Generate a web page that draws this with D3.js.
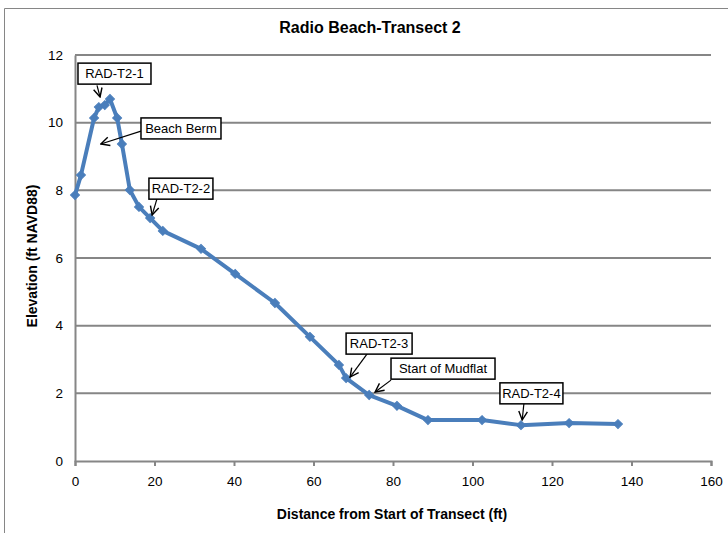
<!DOCTYPE html>
<html><head><meta charset="utf-8">
<script src="https://cdn.jsdelivr.net/npm/d3@7"></script>
<style>body{margin:0;background:#fff;}svg{display:block;font-family:"Liberation Sans",Arial,sans-serif;}</style>
</head><body>
<script>
const distance = [0, 1.5, 4.8, 6.0, 7.5, 8.8, 10.6, 11.8, 13.8, 16.1, 18.9, 22.1, 31.7, 40.3, 50.3, 59.1, 66.4, 68.2, 74.0, 81.0, 88.8, 102.4, 112.2, 124.3, 136.6];
const elevation = [7.86, 8.45, 10.14, 10.46, 10.52, 10.70, 10.14, 9.37, 8.01, 7.51, 7.18, 6.80, 6.27, 5.53, 4.67, 3.67, 2.84, 2.45, 1.95, 1.63, 1.21, 1.21, 1.06, 1.12, 1.09];
const xTicks = [0, 20, 40, 60, 80, 100, 120, 140, 160];
const yTicks = [0, 2, 4, 6, 8, 10, 12];
// callouts: label, box top-left (data coords), arrow start and end (data coords)
const calloutLabels = ["RAD-T2-1", "Beach Berm", "RAD-T2-2", "RAD-T2-3", "Start of Mudflat", "RAD-T2-4"];
const calloutBoxX = [0.75, 16.6, 18.6, 68.2, 79.5, 106.9];
const calloutBoxY = [11.76, 10.14, 8.36, 3.78, 3.04, 2.31];
const calloutBoxW = [73, 80, 64, 66, 104, 63];
const calloutFromX = [5.53, 16.6, 20.6, 74.0, 79.5, 113.0];
const calloutFromY = [11.1, 9.75, 7.74, 3.25, 2.39, 1.77];
const calloutToX = [6.3, 6.5, 19.4, 69.2, 75.5, 112.5];
const calloutToY = [10.76, 9.37, 7.27, 2.48, 2.04, 1.21];

const W = 728, H = 533;
const svg = d3.select("body").append("svg").attr("width", W).attr("height", H);
const x = d3.scaleLinear().domain([0, 160]).range([75, 711]);
const y = d3.scaleLinear().domain([0, 12]).range([461, 55]);
const gray = "#868686";

// outer chart border
svg.append("path").attr("d", `M4.5,${H} L4.5,8.5 L${W},8.5`).attr("fill", "none").attr("stroke", gray).attr("stroke-width", 1);

// title
svg.append("text").attr("x", 370).attr("y", 33).attr("text-anchor", "middle")
  .attr("font-weight", "bold").attr("font-size", 16).text("Radio Beach-Transect 2");

// grid
svg.append("g").selectAll("line").data(yTicks.filter(d => d > 0)).join("line")
  .attr("x1", x(0)).attr("x2", x(160)).attr("y1", d => y(d)).attr("y2", d => y(d))
  .attr("stroke", gray).attr("stroke-width", 2);

// axes
const xAxis = svg.append("g").attr("transform", `translate(0,${y(0)})`)
  .call(d3.axisBottom(x).tickValues(xTicks).tickSize(5).tickPadding(10).tickFormat(d3.format("d")));
const yAxis = svg.append("g").attr("transform", `translate(${x(0)},0)`)
  .call(d3.axisLeft(y).tickValues(yTicks).tickSize(0).tickPadding(12).tickFormat(d3.format("d")));
[xAxis, yAxis].forEach(a => {
  a.select(".domain").attr("stroke", gray).attr("stroke-width", 2);
  a.selectAll(".tick line").attr("stroke", gray).attr("stroke-width", 2);
  a.selectAll(".tick text").attr("font-size", 13.5).attr("fill", "#000")
    .attr("font-family", "Liberation Sans, Arial, sans-serif");
});

// axis titles
svg.append("text").attr("x", 392).attr("y", 519).attr("text-anchor", "middle")
  .attr("font-weight", "bold").attr("font-size", 14).text("Distance from Start of Transect (ft)");
svg.append("text").attr("transform", `translate(37,256) rotate(-90)`).attr("text-anchor", "middle")
  .attr("font-weight", "bold").attr("font-size", 14).text("Elevation (ft NAVD88)");

// line
const pts = distance.map((d, i) => [d, elevation[i]]);
svg.append("path").datum(pts).attr("fill", "none").attr("stroke", "#4A7EBB").attr("stroke-width", 4)
  .attr("stroke-linejoin", "round")
  .attr("d", d3.line().x(d => x(d[0])).y(d => y(d[1])));
svg.append("g").selectAll("path").data(pts).join("path")
  .attr("transform", d => `translate(${x(d[0])},${y(d[1])}) rotate(45)`)
  .attr("d", d3.symbol().type(d3.symbolSquare).size(40))
  .attr("fill", "#4A7EBB").attr("stroke", "#4A7EBB");

// arrowhead
svg.append("defs").append("marker").attr("id", "arr").attr("viewBox", "0 0 10 10")
  .attr("refX", 9).attr("refY", 5).attr("markerWidth", 9).attr("markerHeight", 9).attr("orient", "auto")
  .append("path").attr("d", "M1,1 L9,5 L1,9").attr("fill", "none").attr("stroke", "#000").attr("stroke-width", 1.3);

// callouts
const cg = svg.append("g");
calloutLabels.forEach((lab, i) => {
  cg.append("line").attr("x1", x(calloutFromX[i])).attr("y1", y(calloutFromY[i]))
    .attr("x2", x(calloutToX[i])).attr("y2", y(calloutToY[i]))
    .attr("stroke", "#000").attr("stroke-width", 1.2).attr("marker-end", "url(#arr)");
  const bx = x(calloutBoxX[i]), by = y(calloutBoxY[i]);
  cg.append("rect").attr("x", bx).attr("y", by).attr("width", calloutBoxW[i]).attr("height", 21)
    .attr("fill", "#fff").attr("stroke", "#000").attr("stroke-width", 1.5);
  cg.append("text").attr("font-size", 13).attr("text-anchor", "middle")
    .attr("x", bx + calloutBoxW[i] / 2).attr("y", by + 15).text(lab);
});
</script>
</body></html>
